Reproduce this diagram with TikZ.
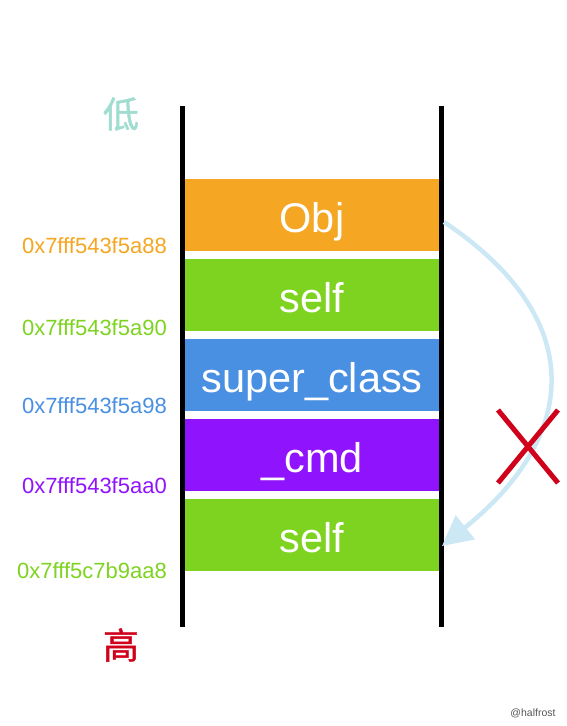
\documentclass[tikz,border=0pt]{standalone}
\usepackage{fontspec}
\setmainfont{Liberation Sans}
\newfontfamily\cjk[FakeBold=1.2]{Noto Sans CJK SC}
\usetikzlibrary{arrows.meta}
\definecolor{cOrange}{HTML}{F5A623}
\definecolor{cGreen}{HTML}{7ED321}
\definecolor{cBlue}{HTML}{4A90E2}
\definecolor{cPurple}{HTML}{9013FE}
\definecolor{cRed}{HTML}{D0021B}
\definecolor{cTeal}{HTML}{A0DCD0}
\definecolor{cArrow}{HTML}{CDE8F5}
\definecolor{cGray}{HTML}{555555}
\tikzset{
  slot/.style={minimum width=254pt, minimum height=72pt, inner sep=0pt, text=white,
    text height=35pt, text depth=0pt, font=\fontsize{41.5}{43}\selectfont},
  addr/.style={anchor=east, inner sep=0pt, font=\fontsize{22}{24}\selectfont},
  rail/.style={line width=5pt},
  cross/.style={line width=5pt, cRed},
  endlabel/.style={inner sep=0pt, font=\cjk\fontsize{36}{38}\selectfont},
  link/.style={line width=4.5pt, cArrow, -{Triangle[length=30pt,width=30pt]}}
}
\begin{document}
\begin{tikzpicture}[x=1pt,y=-1pt]
\useasboundingbox (0,0) rectangle (566,726);
% rails
\coordinate (lt) at (182.5,106);
\coordinate (lb) at (182.5,627);
\coordinate (rt) at (441.5,106);
\coordinate (rb) at (441.5,627);
% slots
\node[slot, fill=cOrange] (obj) at (312,215) {Obj};
\node[slot, fill=cGreen] (self1) at (312,295) {self};
\node[slot, fill=cBlue] (super) at (312,375) {super\_class};
\node[slot, fill=cPurple] (cmd) at (312,455) {\_cmd};
\node[slot, fill=cGreen] (self2) at (312,535) {self};
\draw[rail] (lt) -- (lb);
\draw[rail] (rt) -- (rb);
% addresses
\node[addr, text=cOrange] (a1) at (167,246) {0x7fff543f5a88};
\node[addr, text=cGreen] (a2) at (167,328) {0x7fff543f5a90};
\node[addr, text=cBlue] (a3) at (167,406) {0x7fff543f5a98};
\node[addr, text=cPurple] (a4) at (167,486) {0x7fff543f5aa0};
\node[addr, text=cGreen] (a5) at (167,571) {0x7fff5c7b9aa8};
% low / high
\node[endlabel, text=cTeal] (low) at (121,114) {低};
\node[endlabel, text=cRed] (high) at (121,645) {高};
% arrow
\coordinate (as) at (444,222);
\coordinate (ae) at (442,546);
\draw[link] (as) .. controls (589,319) and (579,436) .. (ae);
% cross
\coordinate (x1) at (498,410);
\coordinate (x2) at (558,483);
\coordinate (x3) at (558,410);
\coordinate (x4) at (498,483);
\draw[cross] (x1) -- (x2);
\draw[cross] (x3) -- (x4);
% watermark
\node[inner sep=0pt, text=cGray, font=\fontsize{10.5}{12}\selectfont] (wm) at (533,713) {@halfrost};
\end{tikzpicture}
\end{document}
